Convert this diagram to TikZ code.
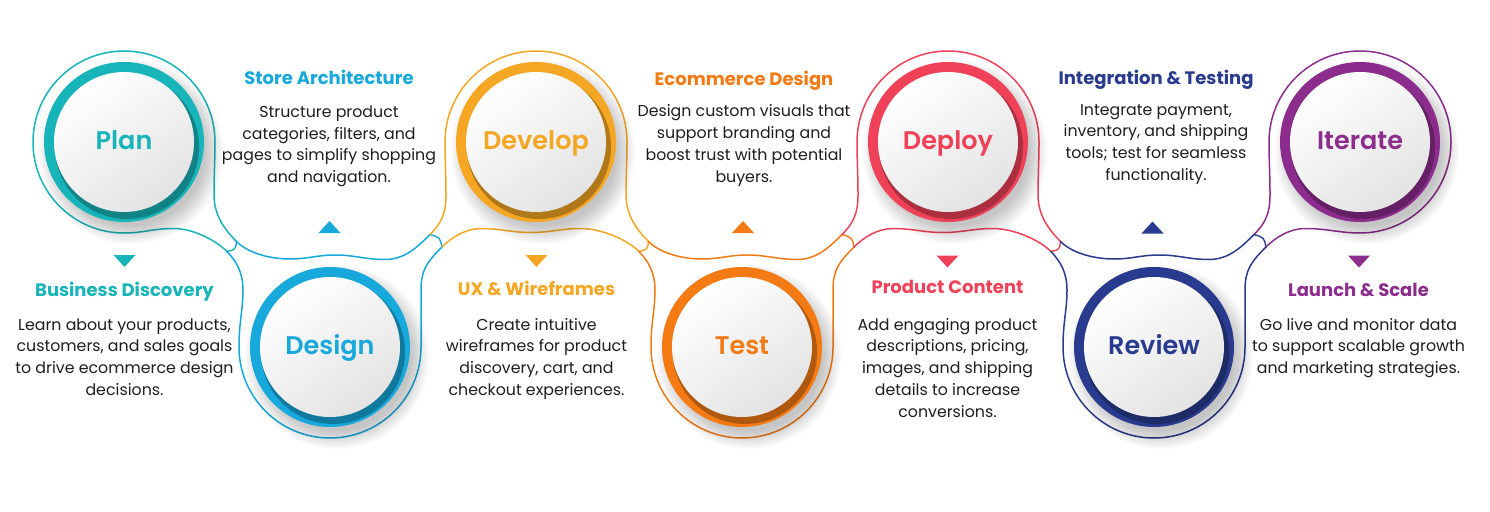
\documentclass[tikz,border=0pt]{standalone}
\usepackage{fontspec}
\setmainfont{Poppins}
\newfontfamily\semibf{Poppins SemiBold}
\definecolor{cPlan}{HTML}{17B4BA}
\definecolor{cDesign}{HTML}{17A8DC}
\definecolor{cDevelop}{HTML}{F5A623}
\definecolor{cTest}{HTML}{F47A14}
\definecolor{cDeploy}{HTML}{EF4259}
\definecolor{cReview}{HTML}{283B8E}
\definecolor{cIterate}{HTML}{8C2C8D}
\definecolor{cBody}{HTML}{1E1E1E}
\tikzset{
  outl/.style={line width=1.5pt, line cap=round},
  tickln/.style={line width=1.4pt, line cap=round},
  lbl/.style={font=\fontsize{25.5}{26}\semibf, anchor=base, inner sep=0pt},
  ttl/.style={font=\fontsize{18}{18}\bfseries, anchor=base, inner sep=0pt},
  bodytxt/.style={font=\fontsize{15.8}{18}\selectfont, anchor=base, inner sep=0pt, text=cBody},
}
% top circle: over-top line and hump under it
\newcommand\topmid[2]{\begin{scope}[shift={(#1,0)}]
  \draw[outl,#2] (-106,234.5) .. controls (-95,223.5) and (-90,214) .. (-90,195)
     .. controls (-90,175) and (-91,160) .. (-91,142)
     .. controls (-91,91.74) and (-50.26,51) .. (0,51)
     .. controls (50.26,51) and (91,91.74) .. (91,142)
     .. controls (91,160) and (90,175) .. (90,195)
     .. controls (90,215) and (100.5,229.5) .. (112.5,241.5);
  \draw[outl,#2] (-94,247) .. controls (-84,237) and (-70,228.5) .. (-55,228.5)
     .. controls (-35,228.5) and (-25,232.5) .. (-5,232.5)
     .. controls (15,232.5) and (25,228.5) .. (45,228.5)
     .. controls (65,228.5) and (91,239.5) .. (103,251.5);
  \draw[tickln,#2] (112.5,241.5) .. controls (111.5,249.5) .. (103,251.5);
\end{scope}}
% bottom circle: trough over it and bottom line under it
\newcommand\botmid[2]{\begin{scope}[shift={(#1,0)}]
  \draw[outl,#2] (-93.5,241.5) .. controls (-81,254) and (-58,259) .. (-40,259)
     .. controls (-22,259) and (-13,255) .. (5,255)
     .. controls (25,255) and (35,259.5) .. (55,259.5)
     .. controls (75,259.5) and (88,246.5) .. (100,234.5);
  \draw[outl,#2] (-103,251.5) .. controls (-94,261) and (-87,272) .. (-87,290)
     .. controls (-87,310) and (-91,322) .. (-91,347)
     .. controls (-91,397.26) and (-50.26,438) .. (0,438)
     .. controls (50.26,438) and (91,397.26) .. (91,347)
     -- (91,290) .. controls (91,270) and (97,262) .. (112,247);
  \draw[tickln,#2] (100,234.5) .. controls (110,237.5) .. (112,247);
\end{scope}}
% disc with ring and label
\newcommand\mydisc[5]{\begin{scope}[shift={(#2,#3)}]
  \foreach \k in {0,...,9}{\fill[black,opacity=0.022] (7,10) circle[radius=74+2*\k];}
  \fill[#4] (0,0) circle[radius=80];
  \begin{scope}
    \clip (0,0) circle[radius=80];
    \fill[#4!72!black] (3,5) circle[radius=72];
  \end{scope}
  \shade[top color=white, bottom color=black!11, shading angle=35] (0,0) circle[radius=70];
  \node[lbl, text=#4] (#1) at (0,7) {#5};
\end{scope}}
% text block
\newcommand\mytext[7]{%
  \node[ttl, text=#4] (#1-t) at (#2,#3) {#5};
  \foreach \myline [count=\i] in {#7}{\node[bodytxt] (#1-\i) at (#2,#6+21.8*\i-21.8) {\myline};}
}
\newcommand\tridown[3]{\fill[#3] (#1-11,#2) -- (#1+11,#2) -- (#1,#2+12) -- cycle;}
\newcommand\triup[3]{\fill[#3] (#1-11,#2+12) -- (#1+11,#2+12) -- (#1,#2) -- cycle;}

\begin{document}
\begin{tikzpicture}[x=1pt,y=-1pt]
\fill[white] (0,0) rectangle (1490,511);
\useasboundingbox (0,0) rectangle (1490,511);

% ---- outline lines
\begin{scope}[shift={(124,0)}]
  \draw[outl,cPlan] (103,251.5) .. controls (91,239.5) and (68,228.5) .. (50,228.5)
     .. controls (28,228.5) and (20,233) .. (0,233)
     .. controls (-50.26,233) and (-91,192.26) .. (-91,142)
     .. controls (-91,91.74) and (-50.26,51) .. (0,51)
     .. controls (50.26,51) and (91,91.74) .. (91,142)
     .. controls (91,160) and (90,175) .. (90,195)
     .. controls (90,215) and (100.5,229.5) .. (112.5,241.5);
  \draw[tickln,cPlan] (112.5,241.5) .. controls (111.5,249.5) .. (103,251.5);
\end{scope}
\botmid{330}{cDesign}
\topmid{536}{cDevelop}
\botmid{742}{cTest}
\topmid{948}{cDeploy}
\botmid{1154}{cReview}
\begin{scope}[shift={(1360,0)}]
  \draw[outl,cIterate] (-106,234.5) .. controls (-95,223.5) and (-90,214) .. (-90,195)
     .. controls (-90,175) and (-91,160) .. (-91,142)
     .. controls (-91,91.74) and (-50.26,51) .. (0,51)
     .. controls (50.26,51) and (91,91.74) .. (91,142)
     .. controls (91,192.26) and (50.26,233) .. (0,233)
     .. controls (-20,233) and (-33,228.5) .. (-55,228.5)
     .. controls (-70,228.5) and (-84,237) .. (-94,247);
\end{scope}

% ---- discs
\mydisc{plan}{124}{142}{cPlan}{Plan}
\mydisc{design}{330}{347}{cDesign}{Design}
\mydisc{develop}{536}{142}{cDevelop}{Develop}
\mydisc{test}{742}{347}{cTest}{Test}
\mydisc{deploy}{948}{142}{cDeploy}{Deploy}
\mydisc{review}{1154}{347}{cReview}{Review}
\mydisc{iterate}{1360}{142}{cIterate}{Iterate}

% ---- pointers
\tridown{124.5}{255}{cPlan}
\triup{329.5}{221}{cDesign}
\tridown{536.5}{255}{cDevelop}
\triup{743}{221}{cTest}
\tridown{947.5}{255.5}{cDeploy}
\triup{1152.5}{221.5}{cReview}
\tridown{1359}{255.5}{cIterate}

% ---- texts
\mytext{bd}{124.5}{296}{cPlan}{Business Discovery}{330}{{Learn about your products,},{customers, and sales goals},{to drive ecommerce design},{decisions.}}
\mytext{sa}{329}{84.3}{cDesign}{Store Architecture}{117.3}{{Structure product},{categories, filters, and},{pages to simplify shopping},{and navigation.}}
\mytext{ux}{536.5}{295.7}{cDevelop}{UX \& Wireframes}{330}{{Create intuitive},{wireframes for product},{discovery, cart, and},{checkout experiences.}}
\mytext{ed}{744}{85}{cTest}{Ecommerce Design}{116.7}{{Design custom visuals that},{support branding and},{boost trust with potential},{buyers.}}
\mytext{pc}{947.5}{293.3}{cDeploy}{Product Content}{330}{{Add engaging product},{descriptions, pricing,},{images, and shipping},{details to increase},{conversions.}}
\mytext{it}{1156}{84}{cReview}{Integration \& Testing}{115}{{Integrate payment,},{inventory, and shipping},{tools; test for seamless},{functionality.}}
\mytext{ls}{1358.5}{296.7}{cIterate}{Launch \& Scale}{330}{{Go live and monitor data},{to support scalable growth},{and marketing strategies.}}
\end{tikzpicture}
\end{document}
